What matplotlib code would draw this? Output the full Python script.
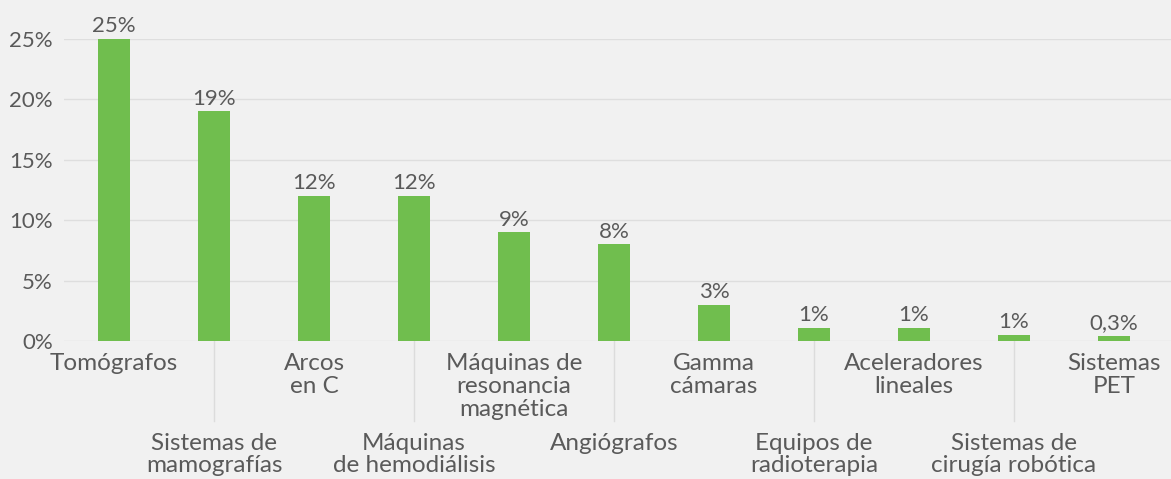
import matplotlib
matplotlib.use("Agg")
import matplotlib.pyplot as plt

plt.rcParams['font.family'] = ['Lato', 'DejaVu Sans']

categorias = ['Tomógrafos', 'Sistemas de\nmamografías', 'Arcos\nen C',
              'Máquinas\nde hemodiálisis', 'Máquinas de\nresonancia\nmagnética',
              'Angiógrafos', 'Gamma\ncámaras', 'Equipos de\nradioterapia',
              'Aceleradores\nlineales', 'Sistemas de\ncirugía robótica',
              'Sistemas\nPET']
valores = [25, 19, 12, 12, 9, 8, 3, 1.1, 1.1, 0.5, 0.4]
etiquetas = ['25%', '19%', '12%', '12%', '9%', '8%', '3%', '1%', '1%', '1%', '0,3%']
yticks = [0, 5, 10, 15, 20, 25]

fondo = '#f1f1f1'
verde = '#70be4e'
gris_texto = '#5a5a5a'

fig = plt.figure(figsize=(11.71, 4.79), dpi=100, facecolor=fondo)
ax = fig.add_axes([64 / 1171, 138 / 479, 1 - 64 / 1171, 302 / 479])
ax.set_facecolor(fondo)

x = list(range(len(categorias)))
ax.bar(x, valores, width=0.32, color=verde, zorder=3)

for xi, v, t in zip(x, valores, etiquetas):
    ax.annotate(t, (xi, v), xytext=(0, 2), textcoords='offset points',
                ha='center', va='bottom', fontsize=16, color=gris_texto)

ax.set_xlim(-0.5, 10.57)
ax.set_ylim(0, 25)
ax.set_yticks(yticks)
ax.set_yticklabels([f'{v}%' for v in yticks], fontsize=16, color=gris_texto)
ax.tick_params(axis='y', length=0, pad=8)
ax.grid(axis='y', color='#dedede', linewidth=1, zorder=0)
for s in ax.spines.values():
    s.set_visible(False)

ax.set_xticks(x)
ax.set_xticklabels([])
ax.tick_params(axis='x', length=0)

# etiquetas escalonadas en dos filas
for i, c in enumerate(categorias):
    if i % 2 == 0:
        ax.annotate(c, (i, 0), xytext=(0, -9), textcoords='offset points',
                    ha='center', va='top', fontsize=17.5, color=gris_texto,
                    linespacing=1.1, annotation_clip=False)
    else:
        ax.annotate(c, (i, 0), xytext=(0, -66), textcoords='offset points',
                    ha='center', va='top', fontsize=17.5, color=gris_texto,
                    linespacing=1.1, annotation_clip=False)
        ax.plot([i, i], [0, -80 / 12.08], color='#dcdcdc', linewidth=1,
                clip_on=False, zorder=1)

fig.savefig('out.png', dpi=100, facecolor=fondo)
